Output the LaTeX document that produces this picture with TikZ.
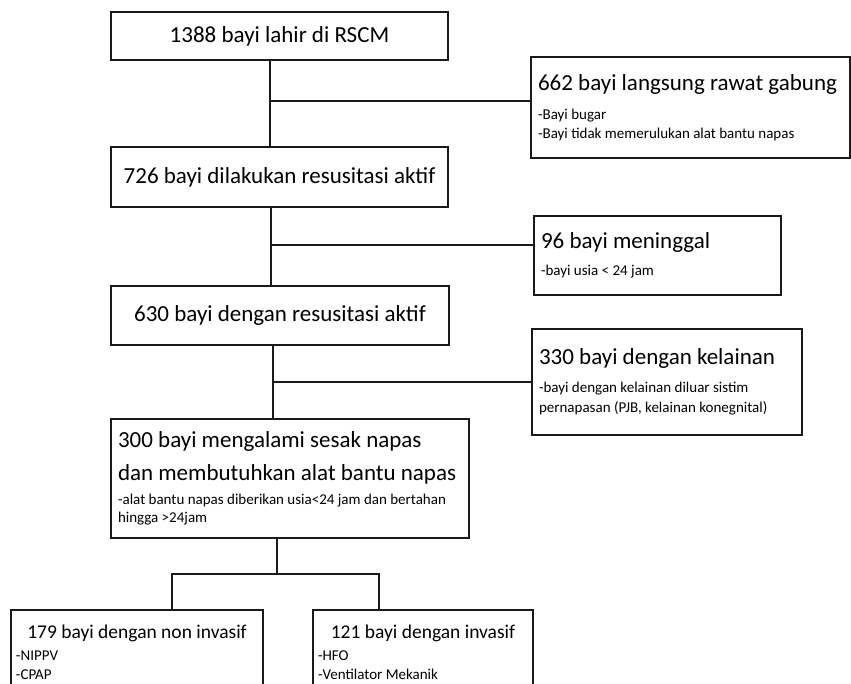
\documentclass[tikz,border=0pt]{standalone}
\usepackage{fontspec}
\setmainfont{Carlito}
\usepackage{tikz}
\usetikzlibrary{calc}
\usepackage{xcolor}
\definecolor{ink}{HTML}{1A1A1A}
\setlength{\parindent}{0pt}
\newcommand{\bigtxt}{\fontsize{23}{30}\selectfont}
\newcommand{\midtxt}{\fontsize{19.5}{24}\selectfont}
\newcommand{\smalltxt}{\fontsize{15}{18.5}\selectfont}
\newcommand{\plainsp}{\spaceskip=0pt\xspaceskip=0pt\relax}
\tikzset{
  box/.style={draw=ink, line width=1.6pt, inner sep=0pt, font=\bigtxt, align=center},
  sidebox/.style={draw=ink, line width=1.6pt, inner sep=0pt, inner xsep=7pt, font=\smalltxt, align=left},
  leafbox/.style={sidebox, inner xsep=5pt, anchor=north},
  link/.style={draw=ink, line width=1.3pt}
}

\begin{document}
\begin{tikzpicture}[x=1pt, y=-1pt]
  \useasboundingbox (0,0) rectangle (851,683);
  \clip (0,0) rectangle (851,683);

  % main column
  \node[box, minimum width=337pt, minimum height=48pt] (born) at (279.5,36) {1388 bayi lahir di RSCM};
  \node[box, minimum width=337pt, minimum height=60pt] (resus) at (279.5,177) {726 bayi dilakukan resusitasi aktif};
  \node[box, minimum width=338pt, minimum height=59pt] (active) at (280,315.5) {630 bayi dengan resusitasi aktif};
  \node[sidebox, text width=344pt, minimum height=119pt] (distress) at (290,478.5)
    {\plainsp\bigtxt 300 bayi mengalami sesak napas\\[3pt]dan membutuhkan alat bantu napas\\[5pt]
     \smalltxt -alat bantu napas diberikan usia<24 jam dan bertahan\\hingga >24jam};

  % side boxes
  \node[sidebox, text width=305pt, minimum height=101pt] (rooming) at (690.5,107.5)
    {\plainsp{\bigtxt 662 bayi langsung rawat gabung}\\[11pt]-Bayi bugar\\-Bayi tidak memerulukan alat bantu napas};
  \node[sidebox, text width=233pt, minimum height=79pt] (died) at (657.5,255.5)
    {\plainsp{\bigtxt 96 bayi meninggal}\\[8pt]-bayi usia < 24 jam};
  \node[sidebox, text width=256pt, minimum height=106pt] (anomaly) at (667,382)
    {\plainsp{\bigtxt 330 bayi dengan kelainan}\\[9pt]-bayi dengan kelainan diluar sistim\\[2pt]pernapasan (PJB, kelainan konegnital)};

  % bottom split
  \node[leafbox, text width=242pt, minimum height=84pt] (noninv) at (137,609)
    {\plainsp{\centering\midtxt 179 bayi dengan non invasif\par}\vspace{4pt}-NIPPV\\-CPAP};
  \node[leafbox, text width=210pt, minimum height=84pt] (invas) at (423,609)
    {\plainsp{\centering\midtxt 121 bayi dengan invasif\par}\vspace{4pt}-HFO\\-Ventilator Mekanik};

  % connectors
  \coordinate (t1) at (270,101);
  \draw[link] (born.south -| t1) -- (resus.north -| t1);
  \draw[link] (t1) -- (t1 -| rooming.west);
  \coordinate (t2) at (271,245);
  \draw[link] (resus.south -| t2) -- (active.north -| t2);
  \draw[link] (t2) -- (t2 -| died.west);
  \coordinate (t3) at (273,382);
  \draw[link] (active.south -| t3) -- (distress.north -| t3);
  \draw[link] (t3) -- (t3 -| anomaly.west);
  \coordinate (t4) at (277,574);
  \coordinate (l4) at (172,574);
  \coordinate (r4) at (379,574);
  \draw[link] (distress.south -| t4) -- (t4);
  \draw[link] (noninv.north -| l4) -- (l4) -- (r4) -- (r4 |- invas.north);
\end{tikzpicture}
\end{document}
